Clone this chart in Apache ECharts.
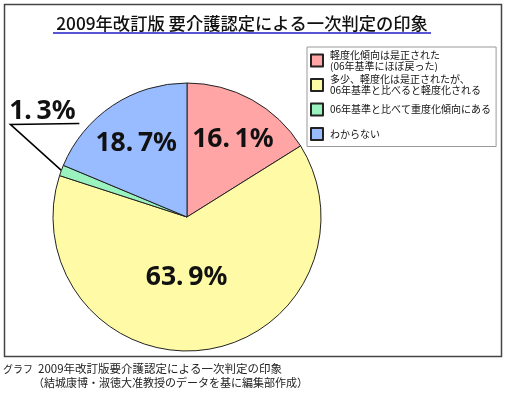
<!DOCTYPE html>
<html><head><meta charset="utf-8">
<script src="https://cdn.jsdelivr.net/npm/echarts@6/dist/echarts.min.js"></script>
<style>html,body{margin:0;padding:0;background:#fff}#c{width:505px;height:395px}</style>
</head><body><div id="c"></div>
<script>
const titleText = '2009年改訂版 要介護認定による一次判定の印象';
const categories = [
  '軽度化傾向は是正された\n(06年基準にほぼ戻った)',
  '多少、軽度化は是正されたが、\n06年基準と比べると軽度化される',
  '06年基準と比べて重度化傾向にある',
  'わからない'
];
const shares = [16.1, 63.9, 1.3, 18.7];
const footerHead = 'グラフ';
const footerLine1 = '2009年改訂版要介護認定による一次判定の印象';
const footerLine2 = '（結城康博・淑徳大准教授のデータを基に編集部作成）';

const colors = ['#FFA5A5', '#FFFAA5', '#9AF3BE', '#99BBFF'];
const labelShift = [[12, -16], [-9, -9], [0, 0], [-12, -15]];
const CJK = "'Noto Sans CJK JP', sans-serif";
const NUM = "'Noto Sans', 'Liberation Sans', sans-serif";

const chart = echarts.init(document.getElementById('c'), null, {renderer: 'canvas'});
chart.setOption({
  animation: false,
  color: colors,
  legend: {
    orient: 'vertical',
    left: 307, top: 47,
    data: categories,
    icon: 'rect',
    itemWidth: 12, itemHeight: 12, itemGap: 1.5,
    padding: [2, 5, 1, 3],
    borderColor: '#999', borderWidth: 1,
    selectedMode: false,
    textStyle: {fontFamily: CJK, fontSize: 10, lineHeight: 11, height: 23, color: '#111', padding: [0, 0, 0, 2]}
  },
  series: [{
    type: 'pie',
    center: [187, 217],
    radius: 134,
    startAngle: 90,
    clockwise: true,
    avoidLabelOverlap: false,
    itemStyle: {borderColor: '#222', borderWidth: 1},
    label: {
      show: true,
      position: 'inside',
      formatter: p => String(p.value).replace('.', '.{g| }') + '%',
      fontFamily: NUM, fontWeight: 'bold', fontSize: 26.5, color: '#111',
      rich: {g: {fontSize: 18}}
    },
    labelLine: {show: false},
    labelLayout: function (p) {
      const i = p.dataIndex;
      if (shares[i] < 5) {
        const pts = p.labelLinePoints;
        if (!pts) return {};
        const p0 = pts[0];
        const p1 = [p0[0] - 51, p0[1] - 46];
        const p2 = [p1[0] + 69, p1[1] - 1];
        return {x: p1[0] + 32, y: p1[1] - 13, align: 'center', verticalAlign: 'middle', labelLinePoints: [p0, p1, p2]};
      }
      const s = labelShift[i];
      return {dx: s[0], dy: s[1]};
    },
    data: categories.map((n, i) => ({
      name: n,
      value: shares[i],
      label: {position: shares[i] < 5 ? 'outside' : 'inside'},
      labelLine: {show: shares[i] < 5, length: 20, length2: 40, lineStyle: {color: '#000', width: 1.5}}
    }))
  }],
  graphic: [
    {type: 'rect', shape: {x: 4.5, y: 4.5, width: 497, height: 352}, style: {fill: 'none', stroke: '#444', lineWidth: 1.5}, z: -1},
    {type: 'text', style: {text: titleText, x: 242, y: 23, align: 'center', verticalAlign: 'middle', font: '500 17.3px ' + CJK, fill: '#111'}},
    {type: 'line', shape: {x1: 53, y1: 33, x2: 431, y2: 33}, style: {stroke: '#5656d4', lineWidth: 2}},
    {type: 'text', style: {text: footerHead, x: 3, y: 369, verticalAlign: 'middle', font: '10px ' + CJK, fill: '#222'}},
    {type: 'text', style: {text: footerLine1, x: 38, y: 369, verticalAlign: 'middle', font: '11.5px ' + CJK, fill: '#222'}},
    {type: 'text', style: {text: footerLine2, x: 33, y: 383, verticalAlign: 'middle', font: '11px ' + CJK, fill: '#222'}}
  ]
});
</script></body></html>
